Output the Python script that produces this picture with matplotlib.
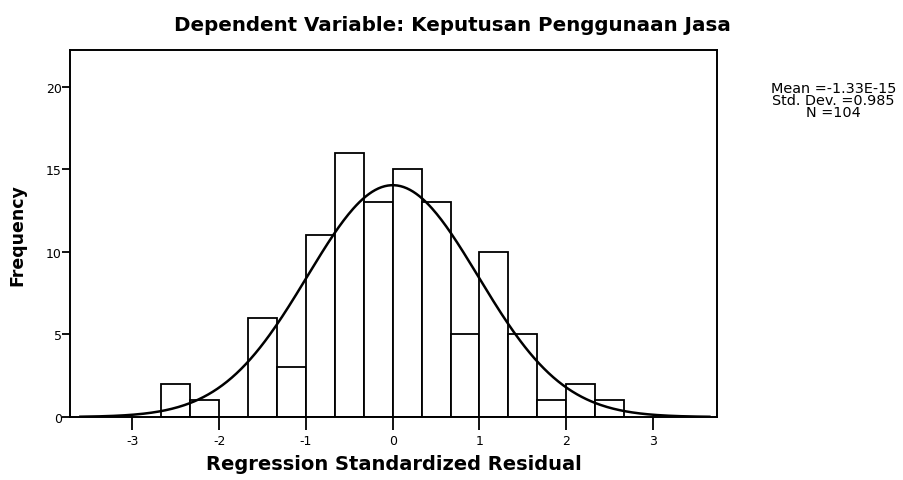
import numpy as np
import matplotlib
matplotlib.use("Agg")
import matplotlib.pyplot as plt

plt.rcParams['font.family'] = ['DejaVu Sans']

# Histogram data (bin edges in units of 1/3)
bin_left = [-8/3, -7/3, -2, -5/3, -4/3, -1, -2/3, -1/3, 0, 1/3, 2/3, 1, 4/3, 5/3, 2, 7/3]
counts = [2, 1, 0, 6, 3, 11, 16, 13, 15, 13, 5, 10, 5, 1, 2, 1]
bin_width = 1/3
mean_val = -1.33e-15
std_val = 0.985
n_val = 104

x_ticks = [-3, -2, -1, 0, 1, 2, 3]
y_ticks = [0, 5, 10, 15, 20]

fig = plt.figure(figsize=(9.04, 4.81), dpi=100)
ax = fig.add_axes([0.0774, 0.131, 0.716, 0.762])

ax.bar(bin_left, counts, width=bin_width, align='edge', facecolor='white',
       edgecolor='black', linewidth=1.3, zorder=2)

xs = np.linspace(-3.6, 3.65, 400)
ys = n_val * bin_width / (std_val * np.sqrt(2 * np.pi)) * np.exp(-0.5 * ((xs - mean_val) / std_val) ** 2)
ax.plot(xs, ys, color='black', linewidth=1.8, zorder=3)

ax.set_xlim(-3.72, 3.74)
ax.set_ylim(0, 22.2)
ax.set_xticks(x_ticks)
ax.set_xticklabels([str(t) for t in x_ticks], fontsize=9)
ax.set_yticks(y_ticks)
ax.set_yticklabels([str(t) for t in y_ticks], fontsize=9)
ax.tick_params(axis='x', length=9, width=1.3, pad=3)
ax.tick_params(axis='y', length=6, width=1.3, pad=0)
for s in ax.spines.values():
    s.set_linewidth(1.4)

ax.set_xlabel('Regression Standardized Residual', fontsize=14, fontweight='bold', labelpad=5)
ax.set_ylabel('Frequency', fontsize=12.5, fontweight='bold', labelpad=14)

fig.text(0.501, 0.946, 'Dependent Variable: Keputusan Penggunaan Jasa', ha='center', va='center',
         fontsize=14.3, fontweight='bold')
fig.text(0.922, 0.79, 'Mean =-1.33E-15\nStd. Dev. =0.985\nN =104', ha='center', va='center',
         fontsize=10.4, linespacing=0.86)

fig.savefig('out.png', dpi=100, facecolor='white')
